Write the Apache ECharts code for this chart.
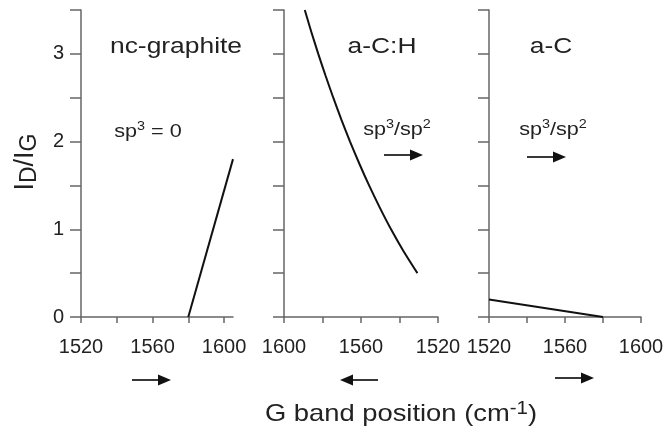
<!DOCTYPE html>
<html>
<head>
<meta charset="utf-8">
<script src="https://cdn.jsdelivr.net/npm/echarts@6/dist/echarts.min.js"></script>
<style>
html,body{margin:0;padding:0;background:#fff;}
#chart{width:668px;height:434px;}
</style>
</head>
<body>
<div id="chart"></div>
<script>
// ---- data ----
var panelTitles = ['nc-graphite', 'a-C:H', 'a-C'];
var yTicks = [0, 1, 2, 3];
var xTickLabels = [1520, 1560, 1600];
var xMinorTicks = [1520, 1540, 1560, 1580, 1600];

var ncGraphite = [[1580, 0], [1605, 1.8]];
var aCH = [[1589.2, 3.5], [1585.8, 3.25], [1582.2, 3.0], [1578.4, 2.75], [1574.4, 2.5], [1570.2, 2.25],
           [1565.7, 2.0], [1560.9, 1.75], [1555.8, 1.5], [1550.3, 1.25], [1544.4, 1.0], [1537.9, 0.75], [1530.7, 0.5]];
var aC = [[1520, 0.2], [1580, 0]];

var FONT = '"Liberation Sans", Arial, sans-serif';
var axisColor = '#666';
var textColor = '#222';

var grids = [
  {left: 81, top: 10, width: 152, height: 307},
  {left: 284, top: 10, width: 154, height: 307},
  {left: 489, top: 10, width: 152, height: 307}
];
var xRanges = [[1520, 1605, false], [1520, 1600, true], [1520, 1600, false]];

var xAxes = xRanges.map(function (r, i) {
  return {
    type: 'value', gridIndex: i, min: r[0], max: r[1], inverse: r[2],
    splitLine: {show: false},
    axisLine: {lineStyle: {color: axisColor, width: 1.5}},
    axisTick: {length: 6, customValues: xMinorTicks, lineStyle: {color: axisColor, width: 1.5}},
    axisLabel: {customValues: xTickLabels, margin: 20, fontSize: 20, color: textColor, fontFamily: FONT,
      formatter: function (v) { return String(v); }}
  };
});
var yAxes = grids.map(function (g, i) {
  return {
    type: 'value', gridIndex: i, min: 0, max: 3.5, interval: 0.5,
    splitLine: {show: false},
    axisLine: {show: true, lineStyle: {color: axisColor, width: 1.5}},
    axisTick: {show: true, length: 11, lineStyle: {color: axisColor, width: 1.5}},
    axisLabel: {show: i === 0, customValues: yTicks, margin: 17, fontSize: 20, color: textColor, fontFamily: FONT,
      formatter: function (v) { return String(v); }}
  };
});

function lineSeries(data, i) {
  return {
    type: 'line', xAxisIndex: i, yAxisIndex: i, data: data,
    showSymbol: false, smooth: i === 1 ? 0.2 : false,
    lineStyle: {color: '#111', width: 2}, silent: true, animation: false
  };
}

function txt(x, y, text, size, rich, scale) {
  return {
    type: 'text', x: x, y: y, scaleX: scale || 1.2,
    style: {text: text, x: 0, y: 0, align: 'center', verticalAlign: 'middle',
      fontSize: size, fontFamily: FONT, fill: textColor, rich: rich || undefined}
  };
}
function arrow(x1, x2, y) {
  var dir = x2 > x1 ? 1 : -1;
  var head = 13;
  return [
    {type: 'line', shape: {x1: x1, y1: y, x2: x2 - dir * head, y2: y}, style: {stroke: '#222', lineWidth: 1.8}},
    {type: 'polygon', shape: {points: [[x2, y], [x2 - dir * head, y - 5.5], [x2 - dir * head, y + 5.5]]}, style: {fill: '#111'}}
  ];
}

var supRich = {
  n: {fontSize: 18, fontFamily: FONT, fill: textColor, lineHeight: 22},
  s: {fontSize: 12, fontFamily: FONT, fill: textColor, lineHeight: 12, verticalAlign: 'top'}
};
var nameRich = {
  n: {fontSize: 24, fontFamily: FONT, fill: textColor, lineHeight: 28},
  s: {fontSize: 18, fontFamily: FONT, fill: textColor, lineHeight: 16, verticalAlign: 'top'}
};
var yNameRich = {
  n: {fontSize: 27, fontFamily: FONT, fill: textColor, lineHeight: 30},
  s: {fontSize: 23, fontFamily: FONT, fill: textColor, lineHeight: 23, verticalAlign: 'bottom'}
};

var graphics = [
  txt(176, 47, panelTitles[0], 22),
  txt(382, 47, panelTitles[1], 22),
  txt(551, 47, panelTitles[2], 22),
  txt(148, 132, '{n|sp}{s|3}{n| = 0}', 18, supRich),
  txt(397, 130, '{n|sp}{s|3}{n|/sp}{s|2}', 18, supRich),
  txt(553, 130, '{n|sp}{s|3}{n|/sp}{s|2}', 18, supRich),
  txt(401, 414, '{n|G band position (cm}{s|-1}{n|)}', 24, nameRich, 1.14),
  {
    type: 'text', x: 26, y: 162, rotation: Math.PI / 2,
    style: {text: '{n|I}{s|D}{n|/I}{s|G}', x: 0, y: 0, align: 'center', verticalAlign: 'middle', rich: yNameRich}
  }
].concat(arrow(132, 171, 380), arrow(378, 340, 380), arrow(555, 594, 378),
         arrow(384, 423, 155), arrow(527, 566, 157));

var chart = echarts.init(document.getElementById('chart'), null, {renderer: 'canvas'});
chart.setOption({
  backgroundColor: '#fff',
  animation: false,
  grid: grids,
  xAxis: xAxes,
  yAxis: yAxes,
  series: [lineSeries(ncGraphite, 0), lineSeries(aCH, 1), lineSeries(aC, 2)],
  graphic: graphics
});
</script>
</body>
</html>
